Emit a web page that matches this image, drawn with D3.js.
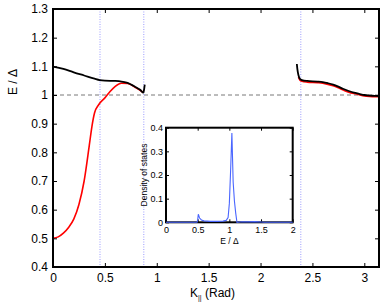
<!DOCTYPE html>
<html>
<head>
<meta charset="utf-8">
<script src="https://cdn.jsdelivr.net/npm/d3@7"></script>
<style>
  body { margin: 0; background: #fff; }
  svg { font-family: "Liberation Sans", Arial, sans-serif; }
</style>
</head>
<body>
<svg id="chart" width="382" height="302"></svg>
<script>
// main band data, K in rad, E in units of gap
const kBlackLeft = [0, 0.1, 0.2, 0.3, 0.4, 0.45, 0.5, 0.6, 0.66, 0.71, 0.79, 0.84, 0.872, 0.878, 0.884];
const eBlackLeft = [1.099, 1.091, 1.079, 1.068, 1.057, 1.052, 1.050, 1.049, 1.047, 1.043, 1.029, 1.018, 1.008, 1.02, 1.036];

const kRedLeft = [0, 0.05, 0.1, 0.15, 0.2, 0.25, 0.3, 0.35, 0.375, 0.4, 0.44, 0.5, 0.55, 0.6, 0.66, 0.72, 0.8, 0.85, 0.872];
const eRedLeft = [0.5, 0.505, 0.518, 0.538, 0.567, 0.618, 0.70, 0.825, 0.89, 0.937, 0.966, 0.99, 1.012, 1.03, 1.041, 1.04, 1.025, 1.014, 1.008];

const kBlackRight = [2.35, 2.355, 2.365, 2.38, 2.4, 2.45, 2.55, 2.6, 2.65, 2.7, 2.75, 2.8, 2.85, 2.9, 2.95, 3.0, 3.05, 3.1, Math.PI];
const eBlackRight = [1.108, 1.09, 1.07, 1.056, 1.052, 1.049, 1.047, 1.045, 1.041, 1.036, 1.029, 1.021, 1.014, 1.008, 1.004, 1.0, 0.998, 0.997, 0.996];

const kRedRight = [2.365, 2.38, 2.4, 2.45, 2.55, 2.6, 2.65, 2.7, 2.75, 2.8, 2.85, 2.9, 2.95, 3.0, 3.05, 3.1, Math.PI];
const eRedRight = [1.062, 1.052, 1.048, 1.045, 1.043, 1.041, 1.037, 1.032, 1.025, 1.017, 1.010, 1.005, 1.001, 0.997, 0.995, 0.994, 0.994];

const kMarkers = [0.453, 0.875, 2.388];
const xTicks = [0, 0.5, 1, 1.5, 2, 2.5, 3];
const yTicks = [0.4, 0.5, 0.6, 0.7, 0.8, 0.9, 1, 1.1, 1.2, 1.3];

// inset: density of states
const dosE = [0, 0.49, 0.5, 0.51, 0.53, 0.56, 0.6, 0.7, 0.8, 0.9, 0.95, 0.98, 1.0, 1.02, 1.04, 1.06, 1.08, 1.1, 1.12, 1.2, 1.3, 1.4, 1.5, 1.55, 2];
const dosV = [0, 0, 0.01, 0.034, 0.018, 0.01, 0.006, 0.004, 0.004, 0.005, 0.008, 0.02, 0.08, 0.22, 0.378, 0.17, 0.09, 0.04, 0, 0.002, 0.002, 0.003, 0.001, 0, 0];
const insetXTicks = [0, 0.5, 1, 1.5, 2];
const insetYTicks = [0, 0.1, 0.2, 0.3, 0.4];

const svg = d3.select("#chart");

const x = d3.scaleLinear().domain([0, Math.PI]).range([53, 379]);
const y = d3.scaleLinear().domain([0.4, 1.3]).range([267, 9]);
const fmt = d => String(d);

function zip(a, b) { return a.map((v, i) => [v, b[i]]); }

const line = d3.line().x(d => x(d[0])).y(d => y(d[1])).curve(d3.curveMonotoneX);

// reference line at E = Delta
svg.append("line")
    .attr("x1", x(0)).attr("x2", x(Math.PI))
    .attr("y1", y(1)).attr("y2", y(1))
    .attr("stroke", "#555").attr("stroke-width", 0.8)
    .attr("stroke-dasharray", "4,3");

// dotted verticals
svg.selectAll(".vmark").data(kMarkers).enter().append("line")
    .attr("class", "vmark")
    .attr("x1", d => x(d)).attr("x2", d => x(d))
    .attr("y1", y(1.3)).attr("y2", y(0.4))
    .attr("stroke", "#9a9aff").attr("stroke-width", 1)
    .attr("stroke-dasharray", "1,1.5");

// curves
[[kRedLeft, eRedLeft, "#ff0000", 1.6], [kRedRight, eRedRight, "#ff0000", 1.6],
 [kBlackLeft, eBlackLeft, "#000", 1.8], [kBlackRight, eBlackRight, "#000", 1.8]]
    .forEach(([k, e, c, w]) => {
        svg.append("path")
            .datum(zip(k, e))
            .attr("d", line)
            .attr("fill", "none")
            .attr("stroke", c)
            .attr("stroke-width", w);
    });

// axes, ticks inward on all four sides
function styleAxis(g, fs) {
    g.select(".domain").remove();
    g.selectAll(".tick line").attr("stroke", "#000").attr("stroke-width", 1);
    g.selectAll("text").attr("font-size", fs).attr("fill", "#000");
}
svg.append("g").attr("transform", "translate(0," + y(0.4) + ")")
    .call(d3.axisBottom(x).tickValues(xTicks).tickFormat(fmt).tickSize(-4).tickPadding(6))
    .call(g => styleAxis(g, 12));
svg.append("g").attr("transform", "translate(0," + y(1.3) + ")")
    .call(d3.axisTop(x).tickValues(xTicks).tickFormat("").tickSize(-4))
    .call(g => styleAxis(g, 12));
svg.append("g").attr("transform", "translate(" + x(0) + ",0)")
    .call(d3.axisLeft(y).tickValues(yTicks).tickFormat(fmt).tickSize(-4).tickPadding(5))
    .call(g => styleAxis(g, 12));
svg.append("g").attr("transform", "translate(" + x(Math.PI) + ",0)")
    .call(d3.axisRight(y).tickValues(yTicks).tickFormat("").tickSize(-4))
    .call(g => styleAxis(g, 12));

svg.append("rect")
    .attr("x", x(0)).attr("y", y(1.3))
    .attr("width", x(Math.PI) - x(0)).attr("height", y(0.4) - y(1.3))
    .attr("fill", "none").attr("stroke", "#000").attr("stroke-width", 2);

// axis titles
svg.append("text")
    .attr("transform", "translate(17,82) rotate(-90)")
    .attr("text-anchor", "middle").attr("font-size", 12)
    .text("E / Δ");

const xt = svg.append("text")
    .attr("x", 190).attr("y", 297)
    .attr("font-size", 12);
xt.append("tspan").text("K");
xt.append("tspan").attr("font-size", 7).attr("dy", 3).text("||");
xt.append("tspan").attr("dy", -3).text(" (Rad)");

// inset
const ix = d3.scaleLinear().domain([0, 2]).range([166, 292.7]);
const iy = d3.scaleLinear().domain([0, 0.4]).range([222.3, 127.7]);
const inset = svg.append("g");

inset.append("rect")
    .attr("x", ix(0)).attr("y", iy(0.4))
    .attr("width", ix(2) - ix(0)).attr("height", iy(0) - iy(0.4))
    .attr("fill", "#fff");

inset.append("g").attr("transform", "translate(0," + iy(0) + ")")
    .call(d3.axisBottom(ix).tickValues(insetXTicks).tickFormat(fmt).tickSize(-3).tickPadding(4))
    .call(g => styleAxis(g, 9));
inset.append("g").attr("transform", "translate(0," + iy(0.4) + ")")
    .call(d3.axisTop(ix).tickValues(insetXTicks).tickFormat("").tickSize(-3))
    .call(g => styleAxis(g, 9));
inset.append("g").attr("transform", "translate(" + ix(0) + ",0)")
    .call(d3.axisLeft(iy).tickValues(insetYTicks).tickFormat(fmt).tickSize(-3).tickPadding(3))
    .call(g => styleAxis(g, 9));
inset.append("g").attr("transform", "translate(" + ix(2) + ",0)")
    .call(d3.axisRight(iy).tickValues(insetYTicks).tickFormat("").tickSize(-3))
    .call(g => styleAxis(g, 9));

inset.append("rect")
    .attr("x", ix(0)).attr("y", iy(0.4))
    .attr("width", ix(2) - ix(0)).attr("height", iy(0) - iy(0.4))
    .attr("fill", "none").attr("stroke", "#000").attr("stroke-width", 2);

inset.append("path")
    .datum(zip(dosE, dosV))
    .attr("d", d3.line().x(d => ix(d[0])).y(d => iy(d[1])))
    .attr("fill", "none")
    .attr("stroke", "#4a66ff")
    .attr("stroke-width", 1.1);

inset.append("text")
    .attr("transform", "translate(147," + iy(0.2) + ") rotate(-90)")
    .attr("text-anchor", "middle").attr("font-size", 8.5)
    .text("Density of states");
inset.append("text")
    .attr("x", ix(1)).attr("y", 244)
    .attr("text-anchor", "middle").attr("font-size", 8.5)
    .text("E / Δ");
</script>
</body>
</html>
